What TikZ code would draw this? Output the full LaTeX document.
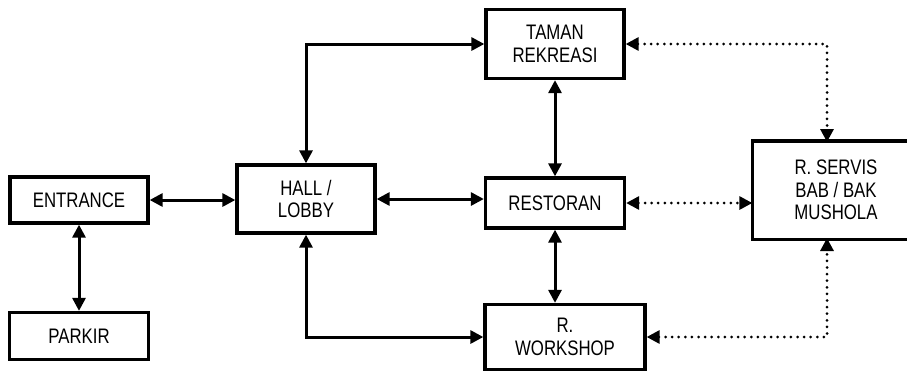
\documentclass[tikz,border=0pt]{standalone}
\usepackage{fontspec}
\setmainfont[FakeStretch=0.8]{Liberation Sans}
\usetikzlibrary{arrows.meta}
\tikzset{
	room/.style={draw,line width=3.3pt,align=center,inner sep=0pt,
		font=\fontsize{21}{22.5}\selectfont},
	link/.style={line width=3pt,{Triangle[length=13pt,width=13pt]}-{Triangle[length=13pt,width=13pt]}},
	service/.style={link,line cap=round,dash pattern=on 0pt off 6.6pt}
}
\begin{document}
\begin{tikzpicture}[x=1pt,y=-1pt]
				\useasboundingbox (0,0) rectangle (907,373);
				\node[room,minimum width=138pt,minimum height=46pt] (entrance) at (79,200) {ENTRANCE};
				\node[room,minimum width=139pt,minimum height=47pt] (parkir) at (79,336) {PARKIR};
				\node[room,minimum width=138pt,minimum height=68pt] (hall) at (306,199) {HALL /\\LOBBY};
				\node[room,minimum width=138pt,minimum height=69pt] (taman) at (555,44) {TAMAN\\REKREASI};
				\node[room,minimum width=139pt,minimum height=50pt] (restoran) at (555,203) {RESTORAN};
				\node[room,minimum width=160pt,minimum height=65pt] (workshop) at (565,337) {R.\\WORKSHOP};
				\node[room,draw=none,minimum width=164pt,minimum height=95pt] (servis) at (836,190) {R. SERVIS\\BAB / BAK\\MUSHOLA};
				\draw[line width=3.3pt] ([xshift=30pt]servis.north east) -- (servis.north west) -- (servis.south west) -- ([xshift=30pt]servis.south east);
				\coordinate (servisN) at (827,142);
				\coordinate (servisS) at (827,238);
				\draw[link] (entrance.east) -- (entrance.east -| hall.west);
				\draw[link] (entrance.south) -- (parkir.north);
				\draw[link] (hall.north) |- (taman.west);
				\draw[link] (hall.east) -- (hall.east -| restoran.west);
				\draw[link] (hall.south) |- (workshop.west);
				\draw[link] (taman.south) -- (restoran.north);
				\draw[link] (restoran.south) -- (restoran.south |- workshop.north);
				\draw[service] (taman.east) -| (servisN);
				\draw[service] (restoran.east) -- (restoran.east -| servis.west);
				\draw[service] (workshop.east) -| (servisS);
\end{tikzpicture}
\end{document}
